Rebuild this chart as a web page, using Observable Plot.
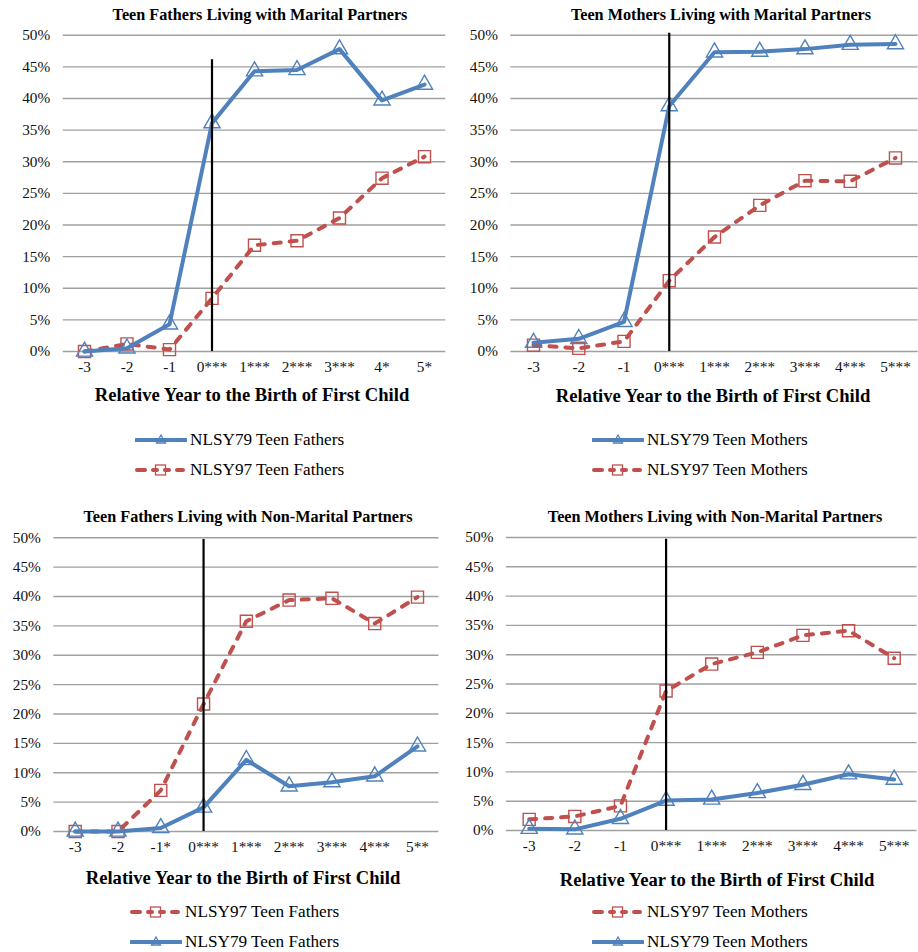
<!DOCTYPE html>
<html>
<head>
<meta charset="utf-8">
<script src="https://cdn.jsdelivr.net/npm/d3@7"></script>
<script src="https://cdn.jsdelivr.net/npm/@observablehq/plot@0.6"></script>
<style>
  html, body { margin: 0; padding: 0; background: #fff; }
  #root { position: relative; width: 918px; height: 952px; font-family: "Liberation Serif", "Times New Roman", serif; color: #000; }
  .abs { position: absolute; }
  .title { font-weight: bold; font-size: 16.2px; white-space: nowrap; transform: translate(-50%, -50%); }
  .xlabel { font-weight: bold; font-size: 18.6px; white-space: nowrap; transform: translate(-50%, -50%); }
  .leg { display: flex; align-items: center; white-space: nowrap; font-size: 17.2px; transform: translateY(-50%); }
  .leg svg { margin-right: 3px; }
</style>
</head>
<body>
<div id="root"></div>
<script>
// ---------- data ----------
const years = [-3, -2, -1, 0, 1, 2, 3, 4, 5];
const yTicks = [0, 5, 10, 15, 20, 25, 30, 35, 40, 45, 50];

const labelsFathersMarital = ["-3", "-2", "-1", "0***", "1***", "2***", "3***", "4*", "5*"];
const labelsMothersMarital = ["-3", "-2", "-1", "0***", "1***", "2***", "3***", "4***", "5***"];
const labelsFathersNonMarital = ["-3", "-2", "-1*", "0***", "1***", "2***", "3***", "4***", "5**"];
const labelsMothersNonMarital = ["-3", "-2", "-1", "0***", "1***", "2***", "3***", "4***", "5***"];

const fathersMarital79 = [0, 0.5, 4.3, 36.1, 44.3, 44.5, 47.8, 39.7, 42.2];
const fathersMarital97 = [0, 1.2, 0.3, 8.4, 16.8, 17.5, 21.1, 27.4, 30.8];
const mothersMarital79 = [1.4, 2.0, 4.7, 38.8, 47.3, 47.4, 47.8, 48.5, 48.6];
const mothersMarital97 = [1.0, 0.5, 1.6, 11.2, 18.1, 23.1, 27.0, 26.9, 30.6];
const fathersNonMarital97 = [0, 0, 7.0, 21.7, 35.8, 39.4, 39.7, 35.4, 39.9];
const fathersNonMarital79 = [0, 0, 0.6, 4.1, 12.2, 7.7, 8.4, 9.4, 14.5];
const mothersNonMarital97 = [1.9, 2.4, 4.2, 23.8, 28.4, 30.4, 33.3, 34.1, 29.4];
const mothersNonMarital79 = [0.3, 0.2, 2.0, 5.1, 5.3, 6.4, 7.8, 9.6, 8.7];

const titles = [
  "Teen Fathers Living with Marital Partners",
  "Teen Mothers Living with Marital Partners",
  "Teen Fathers Living with Non-Marital Partners",
  "Teen Mothers Living with Non-Marital Partners"
];
const xAxisTitle = "Relative Year to the Birth of First Child";
const verticalLineTop = [46.1, 50.3, 49.7, 49.7];

const legendFathers79 = "NLSY79 Teen Fathers";
const legendFathers97 = "NLSY97 Teen Fathers";
const legendMothers79 = "NLSY79 Teen Mothers";
const legendMothers97 = "NLSY97 Teen Mothers";

// ---------- styling / layout ----------
const BLUE = "#4F81BD", RED = "#C0504D", GRID = "#A0A0A0";

const panels = [
  { labels: labelsFathersMarital, s79: fathersMarital79, s97: fathersMarital97, title: titles[0], vTop: verticalLineTop[0],
    left: 0, top: 20, width: 459, height: 365, ml: 62.75, mr: 13.75, mt: 14.7, mb: 34,
    titleX: 260, titleY: 15, xlabX: 252, xlabY: 395,
    legend: [["79", legendFathers79], ["97", legendFathers97]], legX: 135, legY: [440, 470] },
  { labels: labelsMothersMarital, s79: mothersMarital79, s97: mothersMarital97, title: titles[1], vTop: verticalLineTop[1],
    left: 460, top: 20, width: 458, height: 365, ml: 50.4, mr: 0.4, mt: 14.7, mb: 34,
    titleX: 721, titleY: 15, xlabX: 713, xlabY: 396,
    legend: [["79", legendMothers79], ["97", legendMothers97]], legX: 592, legY: [440, 470] },
  { labels: labelsFathersNonMarital, s79: fathersNonMarital79, s97: fathersNonMarital97, title: titles[2], vTop: verticalLineTop[2],
    left: 0, top: 500, width: 459, height: 365, ml: 53.3, mr: 20.6, mt: 37.3, mb: 34,
    titleX: 248, titleY: 517, xlabX: 243, xlabY: 878,
    legend: [["97", legendFathers97], ["79", legendFathers79]], legX: 130, legY: [912, 942] },
  { labels: labelsMothersNonMarital, s79: mothersNonMarital79, s97: mothersNonMarital97, title: titles[3], vTop: verticalLineTop[3],
    left: 460, top: 500, width: 458, height: 365, ml: 45.9, mr: 1.5, mt: 37, mb: 35,
    titleX: 715, titleY: 517, xlabX: 717, xlabY: 880,
    legend: [["97", legendMothers97], ["79", legendMothers79]], legX: 592, legY: [912, 942] }
];

const root = document.getElementById("root");

function legendIcon(kind) {
  if (kind === "79") {
    return `<svg width="52" height="16" viewBox="0 0 52 16">
      <line x1="1" y1="8" x2="51" y2="8" stroke="${BLUE}" stroke-width="4" stroke-linecap="round"/>
      <path d="M26 3 L30.5 11 L21.5 11 Z" fill="none" stroke="${BLUE}" stroke-width="1.3"/>
    </svg>`;
  }
  return `<svg width="52" height="16" viewBox="0 0 52 16">
      <line x1="2" y1="8" x2="10" y2="8" stroke="${RED}" stroke-width="4" stroke-linecap="round"/>
      <line x1="18" y1="8" x2="22" y2="8" stroke="${RED}" stroke-width="4" stroke-linecap="round"/>
      <line x1="30" y1="8" x2="34" y2="8" stroke="${RED}" stroke-width="4" stroke-linecap="round"/>
      <line x1="42" y1="8" x2="48" y2="8" stroke="${RED}" stroke-width="4" stroke-linecap="round"/>
      <rect x="20.5" y="3" width="10" height="10" fill="none" stroke="${RED}" stroke-width="1.3"/>
    </svg>`;
}

panels.forEach((p) => {
  const d79 = years.map((x, i) => ({ x, y: p.s79[i] }));
  const d97 = years.map((x, i) => ({ x, y: p.s97[i] }));
  const vline = [{ x: 0, y1: 0, y2: p.vTop }];

  const chart = Plot.plot({
    width: p.width,
    height: p.height,
    marginLeft: p.ml,
    marginRight: p.mr,
    marginTop: p.mt,
    marginBottom: p.mb,
    x: { type: "linear", domain: [-3.5, 5.5] },
    y: { type: "linear", domain: [0, 50] },
    style: { fontFamily: "'Liberation Serif', 'Times New Roman', serif", fontSize: "15.3px", color: "#000", background: "transparent", overflow: "visible" },
    marks: [
      Plot.ruleY(yTicks, { stroke: GRID, strokeWidth: 1.4 }),
      Plot.axisY({ ticks: yTicks, tickFormat: (d) => d + "%", tickSize: 0, tickPadding: 13, label: null, fill: "#111" }),
      Plot.axisX({ ticks: years, tickFormat: (d) => p.labels[years.indexOf(d)], tickSize: 0, tickPadding: 10, label: null, fill: "#111" }),
      Plot.lineY(d97, { x: "x", y: "y", stroke: RED, strokeWidth: 4, strokeDasharray: "7,9", strokeLinecap: "round", strokeLinejoin: "round" }),
      Plot.dot(d97, { x: "x", y: "y", symbol: "square", r: 6.8, fill: "none", stroke: RED, strokeWidth: 1.4 }),
      Plot.lineY(d79, { x: "x", y: "y", stroke: BLUE, strokeWidth: 4, strokeLinejoin: "round", strokeLinecap: "round" }),
      Plot.dot(d79, { x: "x", y: "y", symbol: "triangle", r: 6, fill: "none", stroke: BLUE, strokeWidth: 1.4 }),
      Plot.ruleX(vline, { x: "x", y1: "y1", y2: "y2", stroke: "#000", strokeWidth: 2.2 })
    ]
  });
  chart.classList.add("abs");
  chart.style.left = p.left + "px";
  chart.style.top = p.top + "px";
  root.appendChild(chart);

  const t = document.createElement("div");
  t.className = "abs title";
  t.style.left = p.titleX + "px";
  t.style.top = p.titleY + "px";
  t.textContent = p.title;
  root.appendChild(t);

  const xl = document.createElement("div");
  xl.className = "abs xlabel";
  xl.style.left = p.xlabX + "px";
  xl.style.top = p.xlabY + "px";
  xl.textContent = xAxisTitle;
  root.appendChild(xl);

  p.legend.forEach(([kind, text], i) => {
    const row = document.createElement("div");
    row.className = "abs leg";
    row.style.left = p.legX + "px";
    row.style.top = p.legY[i] + "px";
    row.innerHTML = legendIcon(kind) + `<span>${text}</span>`;
    root.appendChild(row);
  });
});
</script>
</body>
</html>
